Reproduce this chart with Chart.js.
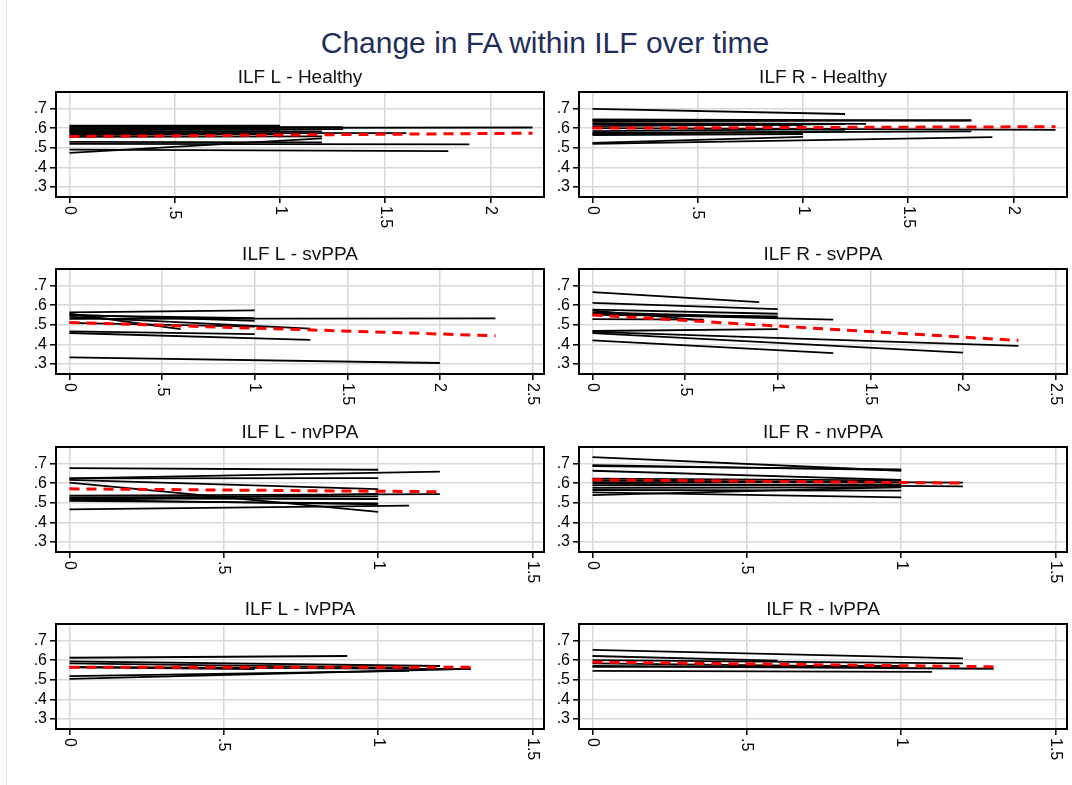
<!DOCTYPE html>
<html>
<head>
<meta charset="utf-8">
<script src="https://cdn.jsdelivr.net/npm/chart.js@4.4.1/dist/chart.umd.min.js"></script>
<style>
  html, body { margin: 0; padding: 0; background: #ffffff; width: 1072px; height: 785px; overflow: hidden; position: relative; }
  #title { position: absolute; left: 0; width: 1090px; top: 25px; text-align: center; font-family: "Liberation Sans", Arial, sans-serif; font-size: 30px; color: #1f2e5c; line-height: 36px; }
  #edge { position: absolute; left: 6px; top: 0; width: 1px; height: 785px; background: #e3e9ee; }
  canvas { position: absolute; }
</style>
</head>
<body>
<div id="edge"></div>
<div id="title">Change in FA within ILF over time</div>

<canvas id="c0"></canvas>
<canvas id="c1"></canvas>
<canvas id="c2"></canvas>
<canvas id="c3"></canvas>
<canvas id="c4"></canvas>
<canvas id="c5"></canvas>
<canvas id="c6"></canvas>
<canvas id="c7"></canvas>

<script>
// ---------------- DATA ----------------
// Each subject: FA at time 0 (start), follow-up time (years), FA at follow-up (end)
const panelTitles = ["ILF L - Healthy", "ILF R - Healthy", "ILF L - svPPA", "ILF R - svPPA",
                     "ILF L - nvPPA", "ILF R - nvPPA", "ILF L - lvPPA", "ILF R - lvPPA"];

const lHealthyStart = [.612, .607, .600, .595, .585, .575, .565, .555, .530, .520, .490, .474, .590, .580];
const lHealthyTime  = [1.0, 1.3, 2.2, 1.0, 1.2, 1.6, 1.0, 1.2, 1.2, 1.9, 1.8, 1.2, 1.3, 1.0];
const lHealthyEnd   = [.613, .605, .603, .600, .583, .574, .570, .558, .527, .517, .483, .548, .595, .585];
const lHealthyFit   = [.557, .574];

const rHealthyStart = [.698, .645, .640, .635, .625, .620, .610, .600, .585, .575, .565, .570, .525, .520];
const rHealthyTime  = [1.2, 1.8, 1.0, 1.8, 1.3, 1.0, 1.2, 2.2, 1.2, 1.8, 1.0, 1.2, 1.0, 1.9];
const rHealthyEnd   = [.672, .638, .640, .640, .622, .615, .620, .591, .595, .583, .570, .585, .555, .554];
const rHealthyFit   = [.600, .607];

const lSvStart = [.563, .556, .548, .530, .552, .540, .510, .466, .458, .334];
const lSvTime  = [1.0, 0.6, 1.0, 2.3, 1.0, 1.3, 1.0, 1.0, 1.3, 2.0];
const lSvEnd   = [.573, .478, .533, .532, .520, .480, .490, .452, .423, .305];
const lSvFit   = [.512, .444];

const rSvStart = [.666, .611, .577, .572, .563, .556, .529, .550, .468, .464, .457, .420];
const rSvTime  = [0.9, 1.0, 1.0, 0.6, 1.0, 1.3, 0.6, 1.0, 1.0, 2.3, 2.0, 1.3];
const rSvEnd   = [.615, .580, .556, .522, .539, .526, .526, .543, .478, .392, .358, .355];
const rSvFit   = [.550, .420];

const lNvStart = [.676, .624, .624, .617, .603, .536, .527, .522, .515, .510, .466, .512];
const lNvTime  = [1.0, 1.2, 1.0, 1.0, 1.0, 1.2, 1.0, 1.0, 1.0, 1.0, 1.1, 1.0];
const lNvEnd   = [.668, .659, .625, .569, .453, .544, .532, .519, .492, .497, .485, .545];
const lNvFit   = [.571, .556];

const rNvStart = [.732, .692, .687, .663, .623, .614, .605, .597, .588, .576, .565, .553, .539];
const rNvTime  = [1.0, 1.0, 1.0, 1.0, 1.0, 1.2, 1.0, 1.2, 1.0, 1.0, 1.0, 1.0, 1.0];
const rNvEnd   = [.663, .666, .670, .617, .614, .602, .602, .583, .591, .579, .562, .527, .580];
const rNvFit   = [.617, .600];

const lLvStart = [.612, .594, .583, .563, .566, .518, .504];
const lLvTime  = [0.9, 1.2, 1.1, 0.6, 1.3, 1.1, 1.3];
const lLvEnd   = [.621, .570, .560, .554, .554, .545, .556];
const lLvFit   = [.564, .563];

const rLvStart = [.652, .621, .600, .583, .570, .566, .545];
const rLvTime  = [1.2, 0.6, 1.2, 1.0, 1.3, 1.0, 1.1];
const rLvEnd   = [.609, .597, .583, .566, .556, .570, .540];
const rLvFit   = [.590, .566];

// fitted-line time span per panel
const fitTimeEnd = [2.2, 2.2, 2.3, 2.3, 1.2, 1.2, 1.3, 1.3];

// axis ticks
const yTicks = [.3, .4, .5, .6, .7];
const yTickLabels = [".3", ".4", ".5", ".6", ".7"];
const xTicksHealthy = [0, .5, 1, 1.5, 2];
const xLabelsHealthy = ["0", ".5", "1", "1.5", "2"];
const xTicksSv = [0, .5, 1, 1.5, 2, 2.5];
const xLabelsSv = ["0", ".5", "1", "1.5", "2", "2.5"];
const xTicksShort = [0, .5, 1, 1.5];
const xLabelsShort = ["0", ".5", "1", "1.5"];

// ---------------- LAYOUT ----------------
const FONT = '"Liberation Sans", Arial, Helvetica, sans-serif';
const colLeft = [56, 579];           // frame left edge per column
const rowTop = [92, 269, 447, 624];  // frame top edge per row
const FRAME_W = 488, FRAME_H = 105;
const Y_AXIS_W = 56, TITLE_H = 32, X_AXIS_H = 40, RIGHT_PAD = 5;
const Y_MIN = .249, Y_MAX = .784;
const PAD_L = 13.5, PAD_R = 11.5;    // px inside frame around the data range

const panels = [
  {start: lHealthyStart, time: lHealthyTime, end: lHealthyEnd, fit: lHealthyFit, xt: xTicksHealthy, xl: xLabelsHealthy, xTop: 2.2},
  {start: rHealthyStart, time: rHealthyTime, end: rHealthyEnd, fit: rHealthyFit, xt: xTicksHealthy, xl: xLabelsHealthy, xTop: 2.2},
  {start: lSvStart, time: lSvTime, end: lSvEnd, fit: lSvFit, xt: xTicksSv, xl: xLabelsSv, xTop: 2.5},
  {start: rSvStart, time: rSvTime, end: rSvEnd, fit: rSvFit, xt: xTicksSv, xl: xLabelsSv, xTop: 2.5},
  {start: lNvStart, time: lNvTime, end: lNvEnd, fit: lNvFit, xt: xTicksShort, xl: xLabelsShort, xTop: 1.5},
  {start: rNvStart, time: rNvTime, end: rNvEnd, fit: rNvFit, xt: xTicksShort, xl: xLabelsShort, xTop: 1.5},
  {start: lLvStart, time: lLvTime, end: lLvEnd, fit: lLvFit, xt: xTicksShort, xl: xLabelsShort, xTop: 1.5},
  {start: rLvStart, time: rLvTime, end: rLvEnd, fit: rLvFit, xt: xTicksShort, xl: xLabelsShort, xTop: 1.5}
];

// frame + rotated (clockwise) x tick labels
const framePlugin = {
  id: 'framePlugin',
  afterDatasetsDraw(chart) {
    const ctx = chart.ctx, a = chart.chartArea;
    ctx.save();
    ctx.strokeStyle = '#000';
    ctx.lineWidth = 2;
    ctx.strokeRect(a.left, a.top, a.right - a.left, a.bottom - a.top);
    ctx.restore();
  },
  afterDraw(chart) {
    const ctx = chart.ctx, a = chart.chartArea, xs = chart.scales.x;
    const labels = chart.options.plugins.framePlugin.labels;
    ctx.save();
    ctx.fillStyle = '#000';
    ctx.font = '16px ' + FONT;
    ctx.textAlign = 'left';
    ctx.textBaseline = 'middle';
    xs.ticks.forEach((t, i) => {
      const px = xs.getPixelForValue(t.value);
      ctx.save();
      ctx.translate(px, a.bottom + 9);
      ctx.rotate(Math.PI / 2);
      ctx.fillText(labels[i], 0, 0);
      ctx.restore();
    });
    ctx.restore();
  }
};

panels.forEach((p, k) => {
  const col = k % 2, row = Math.floor(k / 2);
  const canvas = document.getElementById('c' + k);
  const cw = Y_AXIS_W + FRAME_W + RIGHT_PAD, ch = TITLE_H + FRAME_H + X_AXIS_H;
  canvas.width = cw; canvas.height = ch;
  canvas.style.width = cw + 'px'; canvas.style.height = ch + 'px';
  canvas.style.left = (colLeft[col] - Y_AXIS_W) + 'px';
  canvas.style.top = (rowTop[row] - TITLE_H) + 'px';

  const unit = (FRAME_W - PAD_L - PAD_R) / p.xTop;
  const xMin = -PAD_L / unit, xMax = p.xTop + PAD_R / unit;

  const datasets = [];
  datasets.push({
    data: [{x: 0, y: p.fit[0]}, {x: fitTimeEnd[k], y: p.fit[1]}],
    borderColor: '#ff0000', borderWidth: 3, borderDash: [10, 7],
    pointRadius: 0, fill: false, order: 0
  });
  p.start.forEach((s, i) => {
    datasets.push({
      data: [{x: 0, y: s}, {x: p.time[i], y: p.end[i]}],
      borderColor: '#000000', borderWidth: 1.8,
      pointRadius: 0, fill: false, order: 1
    });
  });

  new Chart(canvas, {
    type: 'line',
    data: { datasets },
    plugins: [framePlugin],
    options: {
      responsive: false, animation: false, devicePixelRatio: 1,
      layout: { padding: { left: 0, right: RIGHT_PAD, top: 0, bottom: 0 } },
      plugins: {
        legend: { display: false },
        tooltip: { enabled: false },
        title: {
          display: true, text: panelTitles[k], fullSize: false,
          color: '#111111', font: { family: FONT, size: 19, weight: 'normal', lineHeight: 1 },
          padding: { top: 8, bottom: 5 }
        },
        framePlugin: { labels: p.xl }
      },
      scales: {
        x: {
          type: 'linear', min: xMin, max: xMax,
          afterBuildTicks: (sc) => { sc.ticks = p.xt.map(v => ({ value: v })); },
          afterFit: (sc) => { sc.height = X_AXIS_H; },
          ticks: { display: false },
          grid: { color: '#d9d9d9', lineWidth: 1.6, tickColor: '#000', tickLength: 6, tickWidth: 1.5, drawTicks: true },
          border: { display: false }
        },
        y: {
          type: 'linear', min: Y_MIN, max: Y_MAX,
          afterBuildTicks: (sc) => { sc.ticks = yTicks.map(v => ({ value: v })); },
          afterFit: (sc) => { sc.width = Y_AXIS_W; },
          ticks: {
            color: '#000', padding: 3, font: { family: FONT, size: 16 },
            callback: (v, i) => yTickLabels[i]
          },
          grid: { color: '#d9d9d9', lineWidth: 1.6, tickColor: '#000', tickLength: 6, tickWidth: 1.5, drawTicks: true },
          border: { display: false }
        }
      }
    }
  });
});
</script>
</body>
</html>
